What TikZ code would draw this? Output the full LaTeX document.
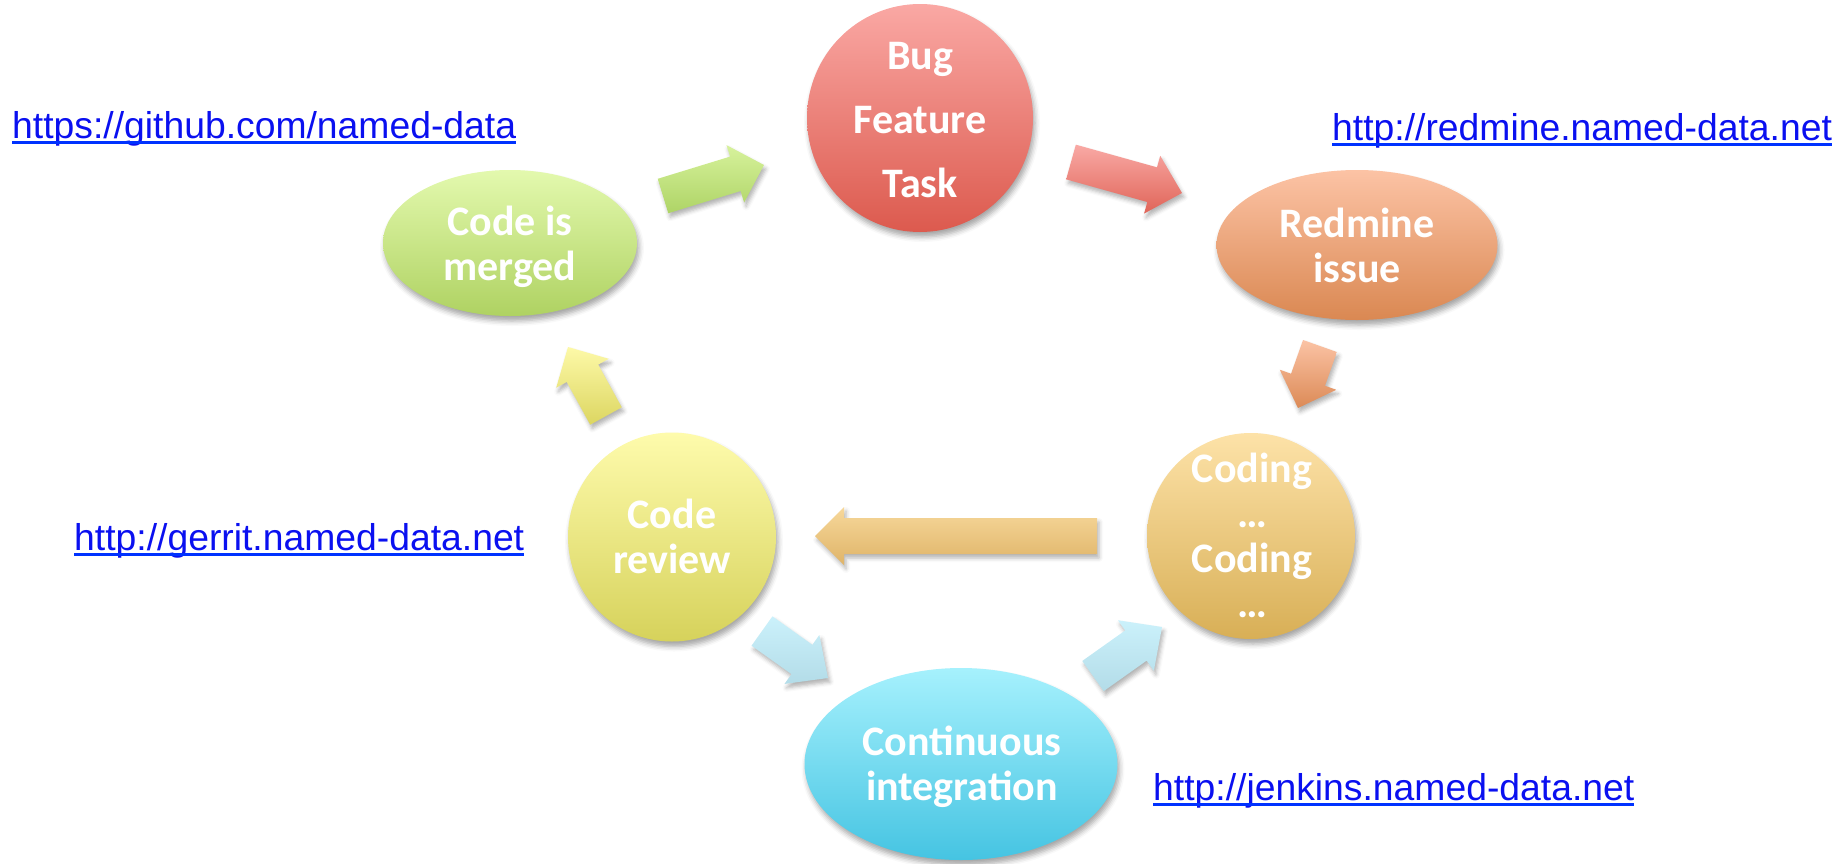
\documentclass[tikz,border=0pt]{standalone}
\usepackage{fontspec}
\setmainfont{Carlito}
\newfontfamily\urlfont{Liberation Sans}
\usetikzlibrary{shapes.geometric,calc,shadows.blur}
\definecolor{bugT}{HTML}{FAA8A4}
\definecolor{bugB}{HTML}{DC5A4E}
\definecolor{mrgT}{HTML}{E3F9AE}
\definecolor{mrgB}{HTML}{AFD262}
\definecolor{redT}{HTML}{FCC3A5}
\definecolor{redB}{HTML}{DA8852}
\definecolor{codT}{HTML}{FDE2A8}
\definecolor{codB}{HTML}{D8AF56}
\definecolor{revT}{HTML}{FEFBAC}
\definecolor{revB}{HTML}{D6D25B}
\definecolor{ciT}{HTML}{A6F1FD}
\definecolor{ciB}{HTML}{45C4E2}
\definecolor{aGrT}{HTML}{D7F29C}
\definecolor{aGrB}{HTML}{AED466}
\definecolor{aRdT}{HTML}{F9A9A5}
\definecolor{aRdB}{HTML}{E06458}
\definecolor{aOrT}{HTML}{FBC3A5}
\definecolor{aOrB}{HTML}{DC8A56}
\definecolor{aCoT}{HTML}{F7D89B}
\definecolor{aCoB}{HTML}{DFB468}
\definecolor{aYeT}{HTML}{FDF9A8}
\definecolor{aYeB}{HTML}{DCD661}
\definecolor{aBlT}{HTML}{CBF1FB}
\definecolor{aBlB}{HTML}{B3DCE8}
\definecolor{urlblue}{RGB}{10,16,240}
\definecolor{ulblue}{RGB}{0,50,255}
\tikzset{
  stage/.style={ellipse, inner sep=0pt, draw=none,
    blur shadow={shadow xshift=2pt, shadow yshift=-5pt, shadow blur radius=5pt, shadow opacity=35}},
  stagetext/.style={text=white, align=center, anchor=base, inner sep=0pt,
    font=\bfseries\fontsize{42}{45}\selectfont},
  urltext/.style={text=urlblue, anchor=base west, inner sep=0pt,
    font=\urlfont\fontsize{37.3}{40}\selectfont},
  urlline/.style={draw=ulblue, line width=2.8pt},
  arrowshade/.style={draw=none,
    blur shadow={shadow xshift=2pt, shadow yshift=-4pt, shadow blur radius=4pt, shadow opacity=30}}
}
% #1 tail, #2 tip, #3 shaft half width, #4 head half width, #5 head length, #6 top, #7 bottom
\newcommand\blockarrow[7]{%
  \coordinate (hb) at ($(#2)!#5!(#1)$);
  \shade[arrowshade, top color=#6, bottom color=#7]
    ($(#1)!#3!90:(#2)$) -- ($(hb)!#3!-90:(#1)$) -- ($(hb)!#4!-90:(#1)$) --
    (#2) -- ($(hb)!#4!90:(#1)$) -- ($(hb)!#3!90:(#1)$) --
    ($(#1)!#3!-90:(#2)$) -- cycle;
}
\begin{document}
\begin{tikzpicture}[x=1pt,y=-1pt]
\useasboundingbox (0,0) rectangle (1848,863);

% stages
\node[stage, minimum width=226pt, minimum height=228pt, top color=bugT, bottom color=bugB] (bug) at (920,118) {};
\node[stage, minimum width=254pt, minimum height=146pt, top color=mrgT, bottom color=mrgB] (merged) at (510,243) {};
\node[stage, minimum width=281pt, minimum height=150pt, top color=redT, bottom color=redB] (redmine) at (1357,245) {};
\node[stage, minimum width=208pt, minimum height=206pt, top color=codT, bottom color=codB] (coding) at (1251,536) {};
\node[stage, minimum width=208pt, minimum height=209pt, top color=revT, bottom color=revB] (review) at (672,537) {};
\node[stage, minimum width=313pt, minimum height=192pt, top color=ciT, bottom color=ciB] (ci) at (961,764) {};

% stage texts (anchor = baseline of the last line)
\node[stagetext, font=\bfseries\fontsize{42}{64}\selectfont] (bugtext) at (920,197) {Bug\\Feature\\Task};
\node[stagetext] (mergedtext) at (510,280) {Code is\\merged};
\node[stagetext] (redminetext) at (1357,282) {Redmine\\issue};
\node[stagetext] (codingtext) at (1252,617) {Coding\\…\\Coding\\…};
\node[stagetext] (reviewtext) at (672,573) {Code\\review};
\node[stagetext] (citext) at (962,800) {Continuous\\integration};

% arrow end points
\coordinate (a1t) at (663,196); \coordinate (a1h) at (764,165);
\coordinate (a2t) at (1071,162); \coordinate (a2h) at (1182,193);
\coordinate (a3t) at (1320,346); \coordinate (a3h) at (1298,408);
\coordinate (a4t) at (1097,536); \coordinate (a4h) at (815,536);
\coordinate (a5t) at (762,631); \coordinate (a5h) at (828,678);
\coordinate (a6t) at (1093,676); \coordinate (a6h) at (1162,627);
\coordinate (a7t) at (606,416); \coordinate (a7h) at (568,347);

\blockarrow{a1t}{a1h}{18pt}{30pt}{30pt}{aGrT}{aGrB}
\blockarrow{a2t}{a2h}{18pt}{30pt}{31pt}{aRdT}{aRdB}
\blockarrow{a3t}{a3h}{18pt}{30pt}{30pt}{aOrT}{aOrB}
\blockarrow{a4t}{a4h}{18pt}{29pt}{29pt}{aCoT}{aCoB}
\blockarrow{a5t}{a5h}{18pt}{30pt}{32pt}{aBlT}{aBlB}
\blockarrow{a6t}{a6h}{18.5pt}{31pt}{32pt}{aBlT}{aBlB}
\blockarrow{a7t}{a7h}{18pt}{30pt}{30pt}{aYeT}{aYeB}

% URLs
\node[urltext] (gh) at (12,138) {https://github.com/named-data};
\node[urltext] (rm) at (1332,140) {http://redmine.named-data.net};
\node[urltext] (gr) at (74,550) {http://gerrit.named-data.net};
\node[urltext] (jk) at (1153,800) {http://jenkins.named-data.net};
\foreach \u in {gh,rm,gr,jk}
  \draw[urlline] ([yshift=-4.5pt]\u.base west) -- ([yshift=-4.5pt]\u.base east);
\end{tikzpicture}
\end{document}
